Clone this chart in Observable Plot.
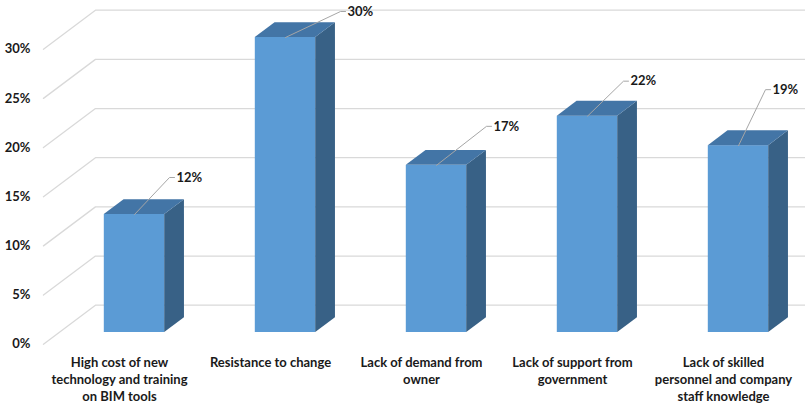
<!DOCTYPE html>
<html>
<head>
<meta charset="utf-8">
<script src="https://cdn.jsdelivr.net/npm/d3@7"></script>
<script src="https://cdn.jsdelivr.net/npm/@observablehq/plot@0.6"></script>
<style>
  html, body { margin: 0; padding: 0; background: #ffffff; }
  #chart svg { display: block; }
</style>
</head>
<body>
<div id="chart"></div>
<script>
// ---- data ----
const categories = [
  "High cost of new\ntechnology and training\non BIM tools",
  "Resistance to change",
  "Lack of demand from\nowner",
  "Lack of support from\ngovernment",
  "Lack of skilled\npersonnel and company\nstaff knowledge"
];
const values = [12, 30, 17, 22, 19];
const yTicks = [0, 5, 10, 15, 20, 25, 30];

// ---- layout (pixel-based perspective settings) ----
const W = 805, H = 405;
const xRange = [134, 738];     // category 0..4 front-face centers
const yRange = [332, 37];      // 0..30 % on the bars' front plane
const pxPerX = (xRange[1] - xRange[0]) / 4;
const pxPerY = (yRange[0] - yRange[1]) / 30;
const depthPx = [52, -39];     // full depth of the box (pixels)
const ddx = depthPx[0] / pxPerX, ddy = -depthPx[1] / pxPerY;  // in data units
const barDepth0 = 0.3, barDepth1 = 0.68;
const sdx = (barDepth1 - barDepth0) * ddx, sdy = (barDepth1 - barDepth0) * ddy;
const halfW = 0.2;
const wallX = -0.603;           // left edge of the floor at depth 0
const rightX = 4.46;
const leaderPx = [[35, -37], [55, -26], [50, -39], [36, -35], [27, -56]];

const colors = {front: "#5B9BD5", top: "#4375A6", side: "#386186", grid: "#D9D9D9", leader: "#A6A6A6", text: "#1a1a1a"};

const bars = values.map((v, i) => ({i, v, label: categories[i]}));

// gridlines: diagonal from front-left wall to back wall, then along back wall
const gridPts = yTicks.flatMap(t => [
  {t, x: wallX, y: t - barDepth0 * ddy},
  {t, x: wallX + ddx, y: t + (1 - barDepth0) * ddy},
  {t, x: rightX, y: t + (1 - barDepth0) * ddy}
]);

// top faces
const topPts = bars.flatMap(({i, v}) => {
  const x0 = i - halfW, x1 = i + halfW;
  return [
    {i, x: x0, y1: v, y2: v},
    {i, x: x0 + sdx, y1: v, y2: v + sdy},
    {i, x: x1, y1: v, y2: v + sdy},
    {i, x: x1 + sdx, y1: v + sdy, y2: v + sdy}
  ];
});
// side faces
const sidePts = bars.flatMap(({i, v}) => {
  const x1 = i + halfW;
  return [
    {i, x: x1, y1: 0, y2: v},
    {i, x: x1 + sdx, y1: sdy, y2: v + sdy}
  ];
});
// leader lines
const leaderPts = bars.flatMap(({i, v}) => {
  const [ox, oy] = leaderPx[i];
  const ex = i + ox / pxPerX, ey = v - oy / pxPerY;
  return [
    {i, x: i, y: v},
    {i, x: ex, y: ey},
    {i, x: ex + 5 / pxPerX, y: ey}
  ];
});
const labelPts = bars.map(({i, v}) => {
  const [ox, oy] = leaderPx[i];
  return {i, v, x: i + (ox + 7) / pxPerX, y: v - oy / pxPerY};
});

const font = "Lato, 'Open Sans', sans-serif";

const chart = Plot.plot({
  width: W,
  height: H,
  margin: 0,
  style: {fontFamily: font, background: "#ffffff"},
  x: {type: "linear", domain: [0, 4], range: xRange, axis: null},
  y: {type: "linear", domain: [0, 30], range: yRange, axis: null},
  marks: [
    Plot.line(gridPts, {x: "x", y: "y", z: "t", stroke: colors.grid, strokeWidth: 1.3}),
    Plot.text(yTicks, {
      x: wallX, y: d => d - barDepth0 * ddy,
      text: d => d + "%", textAnchor: "end", dx: -13, dy: 0,
      fontSize: 13, fontWeight: "bold", fill: colors.text
    }),
    Plot.rect(bars, {x1: d => d.i - halfW, x2: d => d.i + halfW, y1: 0, y2: "v", fill: colors.front}),
    Plot.areaY(sidePts, {x: "x", y1: "y1", y2: "y2", z: "i", fill: colors.side}),
    Plot.areaY(topPts, {x: "x", y1: "y1", y2: "y2", z: "i", fill: colors.top}),
    Plot.line(leaderPts, {x: "x", y: "y", z: "i", stroke: colors.leader, strokeWidth: 1}),
    Plot.text(labelPts, {x: "x", y: "y", text: d => d.v + "%", textAnchor: "start", fontSize: 13, fontWeight: "bold", fill: colors.text}),
    Plot.text(bars, {
      x: "i", text: "label", frameAnchor: "bottom", lineAnchor: "top", dy: -51, dx: -15,
      fontSize: 13, fontWeight: "bold", lineHeight: 1.32, fill: colors.text
    })
  ]
});
document.getElementById("chart").appendChild(chart);
</script>
</body>
</html>
